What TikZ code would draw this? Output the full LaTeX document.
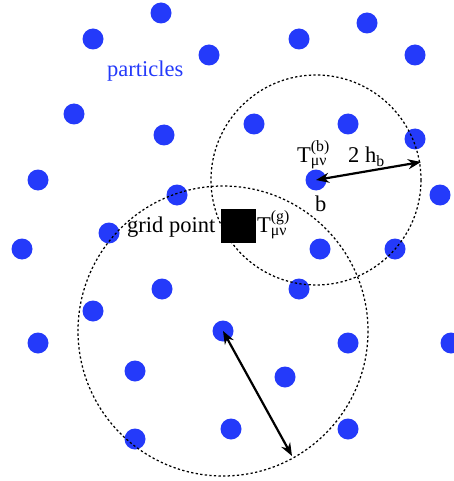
\documentclass[tikz,border=0pt]{standalone}
\usepackage{amsmath}
\usepackage{fontspec}
\setmainfont{Liberation Serif}
\usetikzlibrary{arrows.meta}
\definecolor{partblue}{RGB}{36,58,250}
\tikzset{
  dot/.style={circle,fill=partblue,draw=none,minimum size=21pt,inner sep=0pt},
  gridsq/.style={rectangle,fill=black,draw=none,minimum width=35pt,minimum height=34pt,inner sep=0pt},
  kernel/.style={dash pattern=on 2.3pt off 2.3pt,line width=1.25pt},
  radius arrow/.style={line width=2.2pt,{Stealth[length=13pt,width=10pt]}-{Stealth[length=13pt,width=10pt]}},
  lbl/.style={inner sep=0pt,anchor=base west,font=\fontsize{22.5}{27}\selectfont}
}
\begin{document}
\begin{tikzpicture}[x=1pt,y=-1pt]
\useasboundingbox (0,0) rectangle (453,481);
% particles
\node[dot] (p1) at (161,13) {};
\node[dot] (p2) at (93,39) {};
\node[dot] (p3) at (209,55) {};
\node[dot] (p4) at (299,39) {};
\node[dot] (p5) at (367,23) {};
\node[dot] (p6) at (415,55) {};
\node[dot] (p7) at (74,114) {};
\node[dot] (p8) at (164,135) {};
\node[dot] (p9) at (254,124) {};
\node[dot] (p10) at (348,124) {};
\node[dot] (p11) at (415,139) {};
\node[dot] (p12) at (38,180) {};
\node[dot] (p13) at (177,195) {};
\node[dot] (pb) at (316,180) {};
\node[dot] (p15) at (440,195) {};
\node[dot] (p16) at (22,249) {};
\node[dot] (p17) at (109,233) {};
\node[dot] (p18) at (320,249) {};
\node[dot] (p19) at (395,249) {};
\node[dot] (p20) at (162,289) {};
\node[dot] (p21) at (299,289) {};
\node[dot] (p22) at (93,311) {};
\node[dot] (pg) at (223,331) {};
\node[dot] (p24) at (38,343) {};
\node[dot] (p25) at (348,343) {};
\node[dot] (p26) at (451,343) {};
\node[dot] (p27) at (135,371) {};
\node[dot] (p28) at (285,377) {};
\node[dot] (p29) at (135,439) {};
\node[dot] (p30) at (231,429) {};
\node[dot] (p31) at (348,429) {};
% kernels
\draw[kernel] (pb.center) circle (105);
\draw[kernel] (pg.center) circle (145);
% radius arrows
\coordinate (eb) at (421,162);
\coordinate (eg) at (292,456);
\draw[radius arrow] (pb.center) -- (eb);
\draw[radius arrow] (pg.center) -- (eg);
% grid point
\node[gridsq] (gp) at (238.5,226) {};
% labels
\node[lbl,text=partblue] (tpart) at (107,77) {particles};
\node[lbl] (tgrid) at (127,232) {grid point};
\node[lbl] (tTg) at (257,232) {T$^{\text{(g)}}_{\text{μν}}$};
\node[lbl] (tTb) at (297,162) {T$^{\text{(b)}}_{\text{μν}}$};
\node[lbl] (th) at (348,163) {2 h$_{\text{b}}$};
\node[lbl] (tb) at (315,211) {b};
\end{tikzpicture}
\end{document}
